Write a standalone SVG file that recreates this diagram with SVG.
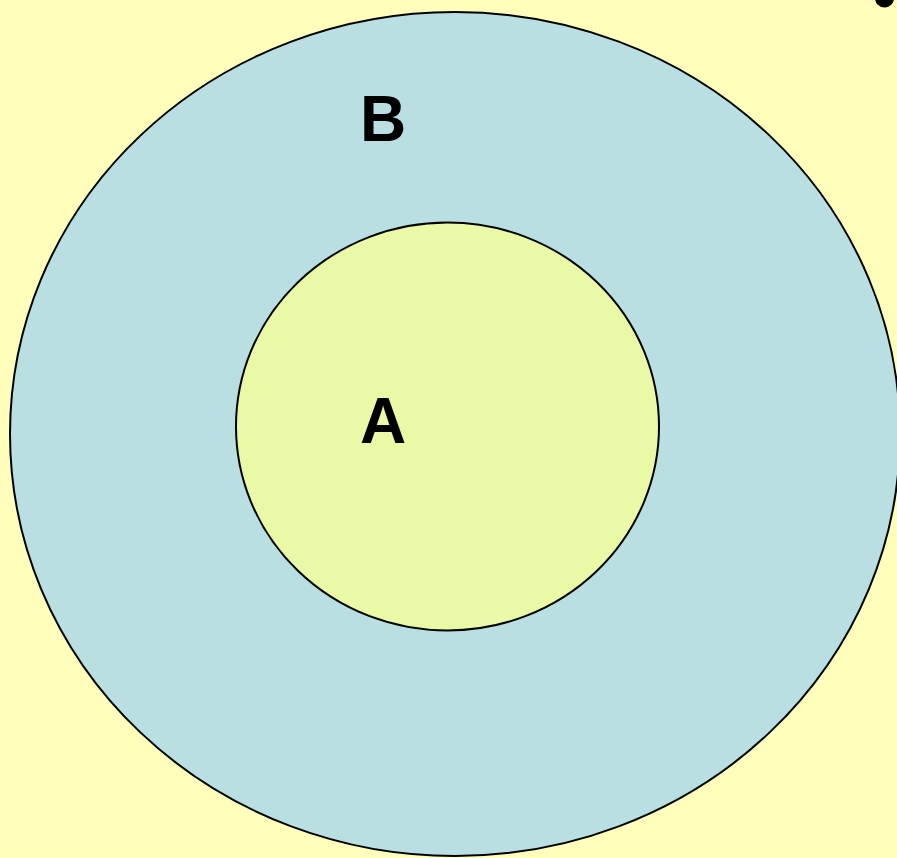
<svg xmlns="http://www.w3.org/2000/svg" width="897" height="858" viewBox="0 0 897 858">
<style>
.lbl{font-family:"Liberation Sans",Arial,sans-serif;font-weight:bold;font-size:64px;fill:#000}
.set{stroke:#000;stroke-width:2}
</style>
<rect width="897" height="858" fill="#FFFFBB"/>
<circle cx="884.5" cy="-2" r="9.5" fill="#000"/>
<g id="B">
<ellipse class="set" cx="455" cy="434" rx="445" ry="422" fill="#BADFE3"/>
<text class="lbl" x="360" y="141">B</text>
</g>
<g id="A">
<ellipse class="set" cx="447.5" cy="426.5" rx="211.5" ry="204" fill="#EAF9A6"/>
<text class="lbl" x="360" y="443">A</text>
</g>
<g id="connectors"/>
</svg>
